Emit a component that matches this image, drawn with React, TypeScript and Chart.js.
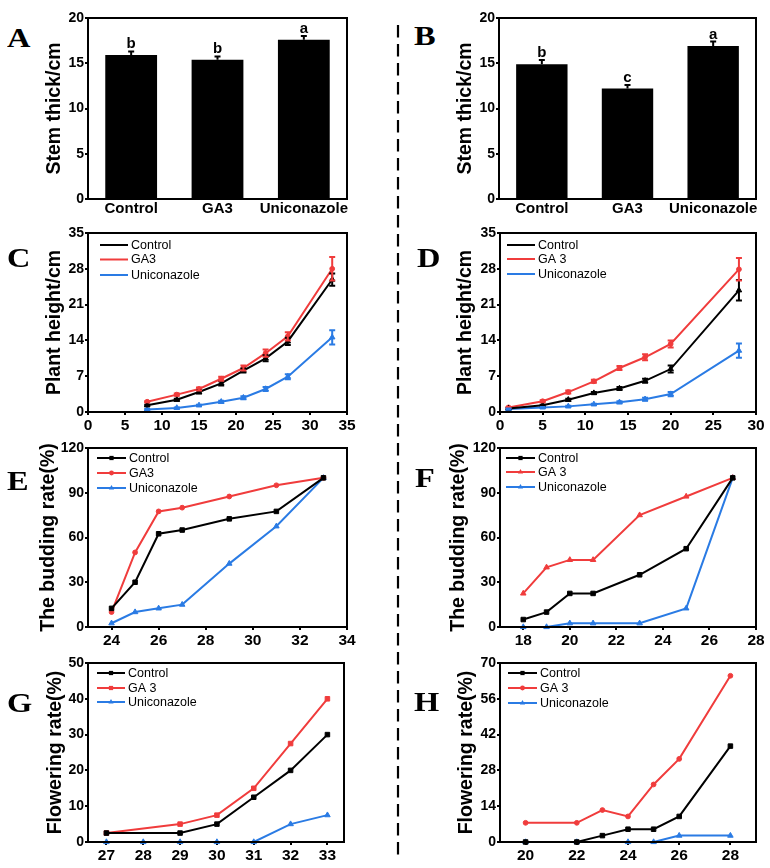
import React, { useEffect, useRef } from "react";
import { Chart, registerables } from "chart.js";

Chart.register(...registerables);

const SANS = "'Liberation Sans', Arial, Helvetica, sans-serif";
const SERIF = "'Liberation Serif', 'Times New Roman', serif";

const BLACK = "#000000";
const RED = "#f03c3c";
const BLUE = "#2a7be4";

// ---------------- Data ----------------
const barCategories = ["Control", "GA3", "Uniconazole"];
const stemA = [15.9, 15.4, 17.6];
const stemAErr = [0.4, 0.35, 0.4];
const stemALetters = ["b", "b", "a"];
const stemB = [14.9, 12.2, 16.9];
const stemBErr = [0.45, 0.4, 0.5];
const stemBLetters = ["b", "c", "a"];

const namesC = ["Control", "GA3", "Uniconazole"];
const namesD = ["Control", "GA 3", "Uniconazole"];

// Panel C: plant height
const daysC = [8, 12, 15, 18, 21, 24, 27, 33];
const heightCControl = [1.3, 2.4, 3.9, 5.6, 8.1, 10.5, 13.8, 25.9];
const heightCControlErr = [0.1, 0.2, 0.3, 0.4, 0.4, 0.6, 0.7, 1.2];
const heightCGA3 = [2.0, 3.4, 4.5, 6.5, 8.6, 11.5, 14.8, 28.0];
const heightCGA3Err = [0.1, 0.2, 0.3, 0.4, 0.5, 0.7, 0.8, 2.3];
const heightCUni = [0.5, 0.8, 1.3, 2.0, 2.8, 4.5, 6.9, 14.6];
const heightCUniErr = [0.1, 0.1, 0.1, 0.2, 0.3, 0.4, 0.5, 1.4];

// Panel D: plant height
const daysD = [1, 5, 8, 11, 14, 17, 20, 28];
const heightDControl = [0.7, 1.3, 2.4, 3.7, 4.6, 6.1, 8.4, 23.8];
const heightDControlErr = [0.1, 0.1, 0.2, 0.2, 0.3, 0.4, 0.7, 2.0];
const heightDGA3 = [0.9, 2.1, 3.9, 6.0, 8.6, 10.7, 13.3, 27.9];
const heightDGA3Err = [0.1, 0.2, 0.3, 0.3, 0.4, 0.6, 0.7, 2.2];
const heightDUni = [0.6, 0.9, 1.1, 1.5, 1.9, 2.5, 3.5, 12.0];
const heightDUniErr = [0.1, 0.1, 0.1, 0.1, 0.2, 0.3, 0.4, 1.4];

// Panel E: budding rate
const daysE = [24, 25, 26, 27, 29, 31, 33];
const budEControl = [12.5, 30, 62.5, 65, 72.5, 77.5, 100];
const budEGA3 = [10, 50, 77.5, 80, 87.5, 95, 100];
const budEUni = [2.5, 10, 12.5, 15, 42.5, 67.5, 100];

// Panel F: budding rate
const daysF = [18, 19, 20, 21, 23, 25, 27];
const budFControl = [5, 10, 22.5, 22.5, 35, 52.5, 100];
const budFGA3 = [22.5, 40, 45, 45, 75, 87.5, 100];
const budFUni = [0, 0, 2.5, 2.5, 2.5, 12.5, 100];

// Panel G: flowering rate
const daysGControl = [27, 29, 30, 31, 32, 33];
const flowGControl = [2.5, 2.5, 5, 12.5, 20, 30];
const daysGGA3 = [27, 29, 30, 31, 32, 33];
const flowGGA3 = [2.5, 5, 7.5, 15, 27.5, 40];
const daysGUni = [27, 28, 29, 30, 31, 32, 33];
const flowGUni = [0, 0, 0, 0, 0, 5, 7.5];

// Panel H: flowering rate
const daysH = [20, 22, 23, 24, 25, 26, 28];
const flowHControl = [0, 0, 2.5, 5, 5, 10, 37.5];
const flowHGA3 = [7.5, 7.5, 12.5, 10, 22.5, 32.5, 65];
const daysHUni = [20, 22, 24, 25, 26, 28];
const flowHUni = [0, 0, 0, 0, 2.5, 2.5];

// Tick values
const ticksA = [0, 5, 10, 15, 20];
const ticksHeight = [0, 7, 14, 21, 28, 35];
const ticksCx = [0, 5, 10, 15, 20, 25, 30, 35];
const ticksDx = [0, 5, 10, 15, 20, 25, 30];
const ticksBud = [0, 30, 60, 90, 120];
const ticksEx = [24, 26, 28, 30, 32, 34];
const ticksFx = [18, 20, 22, 24, 26, 28];
const ticksGy = [0, 10, 20, 30, 40, 50];
const ticksGx = [27, 28, 29, 30, 31, 32, 33];
const ticksHy = [0, 14, 28, 42, 56, 70];
const ticksHx = [20, 22, 24, 26, 28];

// ---------------- Plugins ----------------
function drawMarker(ctx: any, style: string, x: number, y: number, r: number, color: string) {
  ctx.save();
  ctx.fillStyle = color;
  ctx.strokeStyle = color;
  ctx.beginPath();
  if (style === "rect") {
    const s = r * Math.SQRT1_2;
    ctx.rect(x - s, y - s, 2 * s, 2 * s);
  } else if (style === "triangle") {
    ctx.moveTo(x, y - r);
    ctx.lineTo(x + r * 0.866, y + r * 0.5);
    ctx.lineTo(x - r * 0.866, y + r * 0.5);
    ctx.closePath();
  } else {
    ctx.arc(x, y, r * 0.8, 0, Math.PI * 2);
  }
  ctx.fill();
  ctx.restore();
}

const framePlugin = {
  id: "frameBox",
  afterDraw(chart: any) {
    const { ctx, chartArea: a } = chart;
    ctx.save();
    ctx.strokeStyle = "#000";
    ctx.lineWidth = 2;
    ctx.strokeRect(a.left, a.top, a.right - a.left, a.bottom - a.top);
    ctx.restore();
  },
};

const errorBarPlugin = {
  id: "errorBars",
  afterDatasetsDraw(chart: any) {
    const { ctx } = chart;
    const yScale = chart.scales.y;
    chart.data.datasets.forEach((ds: any, i: number) => {
      if (!ds.errors) return;
      const meta = chart.getDatasetMeta(i);
      ctx.save();
      ctx.strokeStyle = ds.errorColor || ds.borderColor || "#000";
      ctx.lineWidth = 2;
      meta.data.forEach((el: any, j: number) => {
        const e = ds.errors[j];
        const parsed = meta.controller.getParsed(j);
        const v = parsed.y;
        const x = el.x;
        const yTop = yScale.getPixelForValue(v + (e || 0));
        if (e) {
          const yBot = ds.errorUpOnly ? yScale.getPixelForValue(v) : yScale.getPixelForValue(v - e);
          const cap = 3;
          ctx.beginPath();
          ctx.moveTo(x, yTop);
          ctx.lineTo(x, yBot);
          ctx.moveTo(x - cap, yTop);
          ctx.lineTo(x + cap, yTop);
          if (!ds.errorUpOnly) {
            ctx.moveTo(x - cap, yBot);
            ctx.lineTo(x + cap, yBot);
          }
          ctx.stroke();
        }
        if (ds.letters && ds.letters[j]) {
          ctx.fillStyle = "#000";
          ctx.font = `bold 15px ${SANS}`;
          ctx.textAlign = "center";
          ctx.textBaseline = "alphabetic";
          ctx.fillText(ds.letters[j], x, yTop - 3);
        }
      });
      ctx.restore();
    });
  },
};

function makeLegend(items: any[], dx: number, dys: number[], lineLen: number, withMarkers: boolean) {
  return {
    id: "insideLegend",
    afterDraw(chart: any) {
      const { ctx, chartArea: a } = chart;
      ctx.save();
      items.forEach((it, k) => {
        const y = a.top + dys[k];
        const x0 = a.left + dx;
        ctx.strokeStyle = it.color;
        ctx.lineWidth = 2;
        ctx.beginPath();
        ctx.moveTo(x0, y);
        ctx.lineTo(x0 + lineLen, y);
        ctx.stroke();
        if (withMarkers) drawMarker(ctx, it.marker, x0 + lineLen / 2, y, 3, it.color);
        ctx.fillStyle = "#000";
        ctx.font = `12.5px ${SANS}`;
        ctx.textAlign = "left";
        ctx.textBaseline = "middle";
        ctx.fillText(it.label, x0 + lineLen + 3, y + 0.5);
      });
      ctx.restore();
    },
  };
}

// ---------------- Geometry & scales ----------------
const TITLE_SIZE = 19.5;
const TITLE_HALF = (TITLE_SIZE * 1.2) / 2;
const PAD_TOP = 12;
const PAD_RIGHT = 20;
const X_AXIS_H = 30;

function geom(l: number, t: number, r: number, b: number, titleOffset: number) {
  const canvasLeft = Math.round(l - titleOffset - TITLE_HALF);
  const yW = l - canvasLeft;
  const canvasTop = t - PAD_TOP;
  const width = r - canvasLeft + PAD_RIGHT;
  const height = b - canvasTop + X_AXIS_H;
  return { canvasLeft, canvasTop, width, height, yW };
}

const tickGrid = {
  display: true,
  drawOnChartArea: false,
  drawTicks: true,
  tickLength: 3,
  color: "#000",
  lineWidth: 2,
};

function yScale(min: number, max: number, ticks: number[], title: string, yW: number) {
  return {
    type: "linear",
    position: "left",
    min,
    max,
    afterBuildTicks: (s: any) => {
      s.ticks = ticks.map((v) => ({ value: v }));
    },
    ticks: {
      autoSkip: false,
      color: "#000",
      font: { family: SANS, size: 14, weight: "bold" },
      padding: 1,
    },
    grid: tickGrid,
    border: { display: false },
    title: {
      display: true,
      text: title,
      color: "#000",
      font: { family: SANS, size: TITLE_SIZE, weight: "bold", lineHeight: 1.2 },
      padding: 0,
    },
    afterFit: (s: any) => {
      s.width = yW;
    },
  };
}

function xLinear(min: number, max: number, ticks: number[]) {
  return {
    type: "linear",
    position: "bottom",
    min,
    max,
    afterBuildTicks: (s: any) => {
      s.ticks = ticks.map((v) => ({ value: v }));
    },
    ticks: {
      autoSkip: false,
      maxRotation: 0,
      minRotation: 0,
      color: "#000",
      font: { family: SANS, size: 15.5, weight: "bold" },
      padding: 1,
    },
    grid: tickGrid,
    border: { display: false },
    afterFit: (s: any) => {
      s.height = X_AXIS_H;
    },
  };
}

function lineDs(label: string, xs: number[], ys: number[], color: string, pointStyle: string, errs?: number[]) {
  return {
    label,
    data: xs.map((x, i) => ({ x, y: ys[i] })),
    borderColor: color,
    backgroundColor: color,
    borderWidth: 2,
    pointStyle,
    pointRadius: pointStyle === "triangle" ? 3.2 : pointStyle === "rect" ? 3.2 : 2.4,
    pointBorderWidth: 1,
    showLine: true,
    tension: 0,
    clip: false,
    errors: errs,
  };
}

function baseOptions(layoutPad: any) {
  return {
    responsive: false,
    animation: false,
    events: [],
    layout: { padding: layoutPad },
    plugins: { legend: { display: false }, tooltip: { enabled: false } },
  };
}

// ---------------- Panels ----------------
function barPanel(l: number, t: number, r: number, b: number, off: number, values: number[], errs: number[], letters: string[]) {
  const g = geom(l, t, r, b, off);
  const config = {
    type: "bar",
    data: {
      labels: barCategories,
      datasets: [
        {
          data: values,
          backgroundColor: BLACK,
          barPercentage: 0.6,
          categoryPercentage: 1,
          errors: errs,
          errorUpOnly: true,
          errorColor: BLACK,
          letters,
        },
      ],
    },
    options: {
      ...baseOptions({ top: PAD_TOP, right: PAD_RIGHT, left: 0, bottom: 0 }),
      scales: {
        x: {
          type: "category",
          offset: true,
          ticks: {
            autoSkip: false,
            maxRotation: 0,
            minRotation: 0,
            color: "#000",
            font: { family: SANS, size: 15, weight: "bold" },
            padding: 1,
          },
          grid: { display: false, drawTicks: false },
          border: { display: false },
          afterFit: (s: any) => {
            s.height = X_AXIS_H;
          },
        },
        y: yScale(0, 20, ticksA, "Stem thick/cm", g.yW),
      },
    },
    plugins: [errorBarPlugin, framePlugin],
  };
  return { g, config };
}

function linePanel(
  l: number, t: number, r: number, b: number, off: number,
  datasets: any[], xScale: any, yS: any[], title: string,
  legend: any
) {
  const g = geom(l, t, r, b, off);
  const config = {
    type: "scatter",
    data: { datasets },
    options: {
      ...baseOptions({ top: PAD_TOP, right: PAD_RIGHT, left: 0, bottom: 0 }),
      scales: {
        x: xScale,
        y: yScale(yS[0], yS[1], yS[2], title, g.yW),
      },
    },
    plugins: [errorBarPlugin, framePlugin, legend],
  };
  return { g, config };
}

function legendItems(names: string[], markers: string[]) {
  return [
    { label: names[0], color: BLACK, marker: markers[0] },
    { label: names[1], color: RED, marker: markers[1] },
    { label: names[2], color: BLUE, marker: markers[2] },
  ];
}

const mk = ["rect", "circle", "triangle"];
const mkF = ["rect", "triangle", "triangle"];

function buildPanels() {
  const A = barPanel(88, 18, 347, 199, 33, stemA, stemAErr, stemALetters);
  const B = barPanel(499, 18, 756, 199, 33, stemB, stemBErr, stemBLetters);

  const C = linePanel(88, 233, 347, 412, 33, [
    lineDs("Control", daysC, heightCControl, BLACK, "triangle", heightCControlErr),
    lineDs("GA3", daysC, heightCGA3, RED, "circle", heightCGA3Err),
    lineDs("Uniconazole", daysC, heightCUni, BLUE, "triangle", heightCUniErr),
  ], xLinear(0, 35, ticksCx), [0, 35, ticksHeight], "Plant height/cm",
    makeLegend(legendItems(namesC, mk), 12, [12, 26.5, 42], 28, false));

  const D = linePanel(500, 233, 756, 412, 34, [
    lineDs("Control", daysD, heightDControl, BLACK, "triangle", heightDControlErr),
    lineDs("GA 3", daysD, heightDGA3, RED, "circle", heightDGA3Err),
    lineDs("Uniconazole", daysD, heightDUni, BLUE, "triangle", heightDUniErr),
  ], xLinear(0, 30, ticksDx), [0, 35, ticksHeight], "Plant height/cm",
    makeLegend(legendItems(namesD, mk), 7, [12, 26, 41], 28, false));

  const E = linePanel(88, 448, 347, 627, 39, [
    lineDs("Control", daysE, budEControl, BLACK, "rect"),
    lineDs("GA3", daysE, budEGA3, RED, "circle"),
    lineDs("Uniconazole", daysE, budEUni, BLUE, "triangle"),
  ], xLinear(23, 34, ticksEx), [0, 120, ticksBud], "The budding rate(%)",
    makeLegend(legendItems(namesC, mk), 9, [10, 25, 40], 29, true));

  const F = linePanel(500, 448, 756, 627, 41, [
    lineDs("Control", daysF, budFControl, BLACK, "rect"),
    lineDs("GA 3", daysF, budFGA3, RED, "triangle"),
    lineDs("Uniconazole", daysF, budFUni, BLUE, "triangle"),
  ], xLinear(17, 28, ticksFx), [0, 120, ticksBud], "The budding rate(%)",
    makeLegend(legendItems(namesD, mkF), 6, [10, 24, 39], 29, true));

  const G = linePanel(88, 663, 344, 842, 32, [
    lineDs("Control", daysGControl, flowGControl, BLACK, "rect"),
    lineDs("GA 3", daysGGA3, flowGGA3, RED, "rect"),
    lineDs("Uniconazole", daysGUni, flowGUni, BLUE, "triangle"),
  ], xLinear(26.5, 33.45, ticksGx), [0, 50, ticksGy], "Flowering rate(%)",
    makeLegend(legendItems(namesD, ["rect", "rect", "triangle"]), 9, [10, 25, 39], 28, true));

  const H = linePanel(500, 663, 756, 842, 33, [
    lineDs("Control", daysH, flowHControl, BLACK, "rect"),
    lineDs("GA 3", daysH, flowHGA3, RED, "circle"),
    lineDs("Uniconazole", daysHUni, flowHUni, BLUE, "triangle"),
  ], xLinear(19, 29, ticksHx), [0, 70, ticksHy], "Flowering rate(%)",
    makeLegend(legendItems(namesD, mk), 8, [10, 25, 40], 29, true));

  return [A, B, C, D, E, F, G, H];
}

function ChartBox({ g, config }: { g: any; config: any }) {
  const ref = useRef<HTMLCanvasElement>(null);
  useEffect(() => {
    const chart = new Chart(ref.current as HTMLCanvasElement, config);
    return () => chart.destroy();
  }, []);
  return (
    <canvas
      ref={ref}
      width={g.width}
      height={g.height}
      style={{ position: "absolute", left: g.canvasLeft, top: g.canvasTop, width: g.width, height: g.height }}
    />
  );
}

const panelLetters = [
  { text: "A", x: 7, y: 39 },
  { text: "B", x: 414, y: 37 },
  { text: "C", x: 7, y: 259 },
  { text: "D", x: 417, y: 259 },
  { text: "E", x: 7, y: 482 },
  { text: "F", x: 415, y: 479 },
  { text: "G", x: 7, y: 704 },
  { text: "H", x: 414, y: 703 },
];

export default function App() {
  const panels = buildPanels();
  return (
    <div style={{ position: "absolute", left: 0, top: 0, width: 770, height: 868, background: "#fff", overflow: "hidden" }}>
      {panels.map((p, i) => (
        <ChartBox key={i} g={p.g} config={p.config} />
      ))}
      {panelLetters.map((L) => (
        <div
          key={L.text}
          style={{
            position: "absolute",
            left: L.x,
            top: L.y - 13.7,
            fontFamily: SERIF,
            fontWeight: "bold",
            fontSize: 27,
            lineHeight: "27px",
            transform: "scaleX(1.2)",
            transformOrigin: "left center",
            color: "#000",
          }}
        >
          {L.text}
        </div>
      ))}
      <svg style={{ position: "absolute", left: 396, top: 0 }} width={4} height={868}>
        <line x1={2} y1={25} x2={2} y2={860} stroke="#000" strokeWidth={2.2} strokeDasharray="12.5 6.5" />
      </svg>
    </div>
  );
}
